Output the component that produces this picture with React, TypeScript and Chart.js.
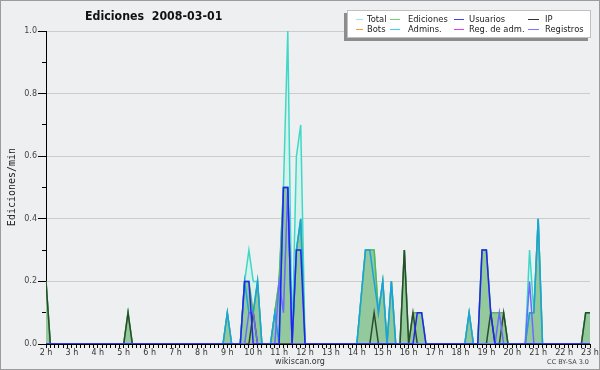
import { useEffect, useRef } from "react";
import { Chart, registerables } from "chart.js";

Chart.register(...registerables);

// ---- data: [time "HH:MM", edits per minute] vertices ----
const totalData: [string, number][] = [
  ["02:00", 0.2], ["02:10", 0],
  ["05:00", 0], ["05:10", 0.1], ["05:20", 0],
  ["08:50", 0], ["09:00", 0.1], ["09:10", 0],
  ["09:30", 0], ["09:40", 0.2], ["09:50", 0.3], ["10:00", 0.2], ["10:10", 0.2], ["10:20", 0],
  ["10:40", 0], ["10:50", 0.1], ["11:00", 0.2], ["11:10", 0.5], ["11:20", 1.0], ["11:30", 0], ["11:40", 0.6], ["11:50", 0.7], ["12:00", 0],
  ["14:00", 0], ["14:10", 0.15], ["14:20", 0.3], ["14:30", 0.3], ["14:40", 0.3], ["14:50", 0.1], ["15:00", 0.2], ["15:10", 0], ["15:20", 0.2], ["15:30", 0],
  ["15:40", 0], ["15:50", 0.3], ["16:00", 0], ["16:10", 0.1], ["16:20", 0.1], ["16:30", 0.1], ["16:40", 0],
  ["18:10", 0], ["18:20", 0.1], ["18:30", 0], ["18:40", 0], ["18:50", 0.3], ["19:00", 0.3], ["19:10", 0.1], ["19:20", 0.1], ["19:30", 0.1], ["19:40", 0.1], ["19:50", 0],
  ["20:30", 0], ["20:40", 0.3], ["20:50", 0.1], ["21:00", 0.4], ["21:10", 0],
  ["22:40", 0], ["22:50", 0.1], ["23:00", 0.1],
];

const edicionesData: [string, number][] = [
  ["02:00", 0.2], ["02:10", 0],
  ["05:00", 0], ["05:10", 0.1], ["05:20", 0],
  ["08:50", 0], ["09:00", 0.1], ["09:10", 0],
  ["09:30", 0], ["09:40", 0.2], ["09:50", 0.2], ["10:00", 0.1], ["10:10", 0.2], ["10:20", 0],
  ["10:40", 0], ["10:50", 0.1], ["11:00", 0.2], ["11:10", 0.5], ["11:20", 0.5], ["11:30", 0], ["11:40", 0.3], ["11:50", 0.4], ["12:00", 0],
  ["14:00", 0], ["14:10", 0.15], ["14:20", 0.3], ["14:30", 0.3], ["14:40", 0.3], ["14:50", 0.1], ["15:00", 0.2], ["15:10", 0], ["15:20", 0.2], ["15:30", 0],
  ["15:40", 0], ["15:50", 0.3], ["16:00", 0], ["16:10", 0.1], ["16:20", 0.1], ["16:30", 0.1], ["16:40", 0],
  ["18:10", 0], ["18:20", 0.1], ["18:30", 0], ["18:40", 0], ["18:50", 0.3], ["19:00", 0.3], ["19:10", 0.1], ["19:20", 0.1], ["19:30", 0.1], ["19:40", 0.1], ["19:50", 0],
  ["20:30", 0], ["20:40", 0.1], ["20:50", 0.1], ["21:00", 0.4], ["21:10", 0],
  ["22:40", 0], ["22:50", 0.1], ["23:00", 0.1],
];

const usuariosData: [string, number][] = [
  ["02:00", 0], ["09:30", 0], ["09:40", 0.2], ["09:50", 0.2], ["10:00", 0],
  ["11:00", 0], ["11:10", 0.5], ["11:20", 0.5], ["11:30", 0], ["11:40", 0.3], ["11:50", 0.3], ["12:00", 0],
  ["16:10", 0], ["16:20", 0.1], ["16:30", 0.1], ["16:40", 0],
  ["18:40", 0], ["18:50", 0.3], ["19:00", 0.3], ["19:10", 0.1], ["19:20", 0], ["23:00", 0],
];

const ipData: [string, number][] = [
  ["02:00", 0.2], ["02:10", 0], ["05:00", 0], ["05:10", 0.1], ["05:20", 0],
  ["09:50", 0], ["10:00", 0.1], ["10:10", 0],
  ["14:30", 0], ["14:40", 0.1], ["14:50", 0],
  ["15:40", 0], ["15:50", 0.3], ["16:00", 0], ["16:10", 0.1], ["16:20", 0],
  ["19:00", 0], ["19:10", 0.1], ["19:20", 0], ["19:30", 0], ["19:40", 0.1], ["19:50", 0],
  ["22:40", 0], ["22:50", 0.1], ["23:00", 0.1],
];

const botsData: [string, number][] = [["02:00", 0], ["23:00", 0]];

const adminsData: [string, number][] = [
  ["02:00", 0], ["08:50", 0], ["09:00", 0.1], ["09:10", 0],
  ["09:30", 0], ["09:40", 0.2], ["09:50", 0.1], ["10:00", 0.1], ["10:10", 0.2], ["10:20", 0],
  ["10:40", 0], ["10:50", 0.1], ["11:00", 0], ["11:10", 0.5], ["11:20", 0.5], ["11:30", 0], ["11:40", 0.3], ["11:50", 0.4], ["12:00", 0],
  ["14:00", 0], ["14:10", 0.15], ["14:20", 0.3], ["14:30", 0.3], ["14:40", 0.2], ["14:50", 0.1], ["15:00", 0.2], ["15:10", 0], ["15:20", 0.2], ["15:30", 0],
  ["18:10", 0], ["18:20", 0.1], ["18:30", 0],
  ["20:30", 0], ["20:40", 0.1], ["20:50", 0.1], ["21:00", 0.4], ["21:10", 0], ["23:00", 0],
];

const regAdmData: [string, number][] = [["02:00", 0], ["23:00", 0]];

const registrosData: [string, number][] = [
  ["02:00", 0], ["09:40", 0], ["09:50", 0.1], ["10:00", 0.1], ["10:10", 0],
  ["10:50", 0], ["11:00", 0.2], ["11:10", 0.1], ["11:20", 0.5], ["11:30", 0],
  ["19:20", 0], ["19:30", 0.1], ["19:40", 0],
  ["20:30", 0], ["20:40", 0.2], ["20:50", 0], ["23:00", 0],
];

const xMinTime = "02:00";
const xMaxTime = "23:00";
const yMax = 1.0;

const title = "Ediciones  2008-03-01";
const yTitle = "Ediciones/min";
const legendRow1 = ["Total", "Ediciones", "Usuarios", "IP"];
const legendRow2 = ["Bots", "Admins.", "Reg. de adm.", "Registros"];

// ---- styles ----
const legendColors1 = ["#9fe6e2", "#77cc77", "#4040ff", "#333333"];
const legendColors2 = ["#f5a030", "#40d0f0", "#e040f0", "#7777ff"];

const toMin = (s: string) => {
  const [h, m] = s.split(":").map(Number);
  return h * 60 + m;
};
const pts = (arr: [string, number][]) => arr.map(([t, v]) => ({ x: toMin(t), y: v }));

export default function App() {
  const ref = useRef<HTMLCanvasElement>(null);

  useEffect(() => {
    document.body.style.margin = "0";
    const canvas = ref.current!;

    const deco = {
      id: "deco",
      beforeDraw(chart: any) {
        const c = chart.ctx;
        c.save();
        c.fillStyle = "#eeeff0";
        c.fillRect(0, 0, chart.width, chart.height);
        c.restore();
      },
      afterDraw(chart: any) {
        const c = chart.ctx;
        c.save();
        // border
        c.strokeStyle = "#9c9c9c";
        c.lineWidth = 1;
        c.strokeRect(0.5, 0.5, chart.width - 1, chart.height - 1);
        // title
        c.save();
        c.translate(85, 16.5);
        c.scale(0.92, 1);
        c.fillStyle = "#111";
        c.font = "bold 12px 'DejaVu Sans'";
        c.textAlign = "left";
        c.textBaseline = "middle";
        c.fillText(title, 0, 0);
        c.restore();
        // y title
        c.save();
        c.translate(12, 187);
        c.rotate(-Math.PI / 2);
        c.font = "10px 'DejaVu Sans Mono'";
        c.textAlign = "center";
        c.textBaseline = "middle";
        c.fillStyle = "#222";
        c.fillText(yTitle, 0, 0);
        c.restore();
        // footer
        c.textBaseline = "middle";
        c.font = "8px 'DejaVu Sans'";
        c.fillStyle = "#333";
        c.textAlign = "center";
        c.fillText("wikiscan.org", 300, 361.5);
        c.font = "6.5px 'DejaVu Sans'";
        c.fillStyle = "#444";
        c.textAlign = "right";
        c.fillText("CC BY-SA 3.0", 589, 362);
        // legend box
        c.fillStyle = "#8c8c8c";
        c.fillRect(344, 13, 244, 28);
        c.fillStyle = "#ffffff";
        c.fillRect(347, 10, 244, 28);
        c.strokeStyle = "#c0c0c0";
        c.strokeRect(347.5, 10.5, 243, 27);
        const lineStart = [356, 390, 454, 528];
        const lineEnd = [363, 400, 464, 539];
        const textX = [367, 408, 469, 545];
        const rows = [19.5, 29.5];
        c.font = "9px 'DejaVu Sans'";
        c.textAlign = "left";
        c.textBaseline = "middle";
        [legendRow1, legendRow2].forEach((row, r) => {
          const cols = r === 0 ? legendColors1 : legendColors2;
          row.forEach((label, i) => {
            c.strokeStyle = cols[i];
            c.lineWidth = 1;
            c.beginPath();
            c.moveTo(lineStart[i], rows[r]);
            c.lineTo(lineEnd[i], rows[r]);
            c.stroke();
            c.save();
            c.translate(textX[i], rows[r] + 0.5);
            c.scale(0.93, 1);
            c.fillStyle = "#222";
            c.fillText(label, 0, 0);
            c.restore();
          });
        });
        c.restore();
      },
    };

    const line = (label: string, data: [string, number][], color: string, order: number, extra: any = {}) => ({
      label,
      data: pts(data),
      borderColor: color,
      borderWidth: 1.5,
      pointRadius: 0,
      tension: 0,
      fill: false,
      order,
      ...extra,
    });

    const chart = new Chart(canvas, {
      type: "line",
      data: {
        datasets: [
          line("Usuarios", usuariosData, "#2424ee", 1),
          line("Registros", registrosData, "#6a6aff", 2),
          line("Admins.", adminsData, "#1aa2e0", 3),
          line("IP", ipData, "#2c4a2c", 4),
          line("Reg. de adm.", regAdmData, "#e040e0", 5),
          line("Bots", botsData, "#ffa020", 6),
          line("Ediciones", edicionesData, "#55b855", 7, { fill: "origin", backgroundColor: "#93c99d" }),
          line("Total", totalData, "#3fd8c8", 8, { fill: "origin", backgroundColor: "#d6f2ec" }),
        ],
      },
      options: {
        responsive: false,
        animation: false,
        events: [],
        layout: { padding: { top: 31, right: 10, left: 0, bottom: 0 } },
        plugins: { legend: { display: false }, tooltip: { enabled: false }, title: { display: false } },
        scales: {
          x: {
            type: "linear",
            min: toMin(xMinTime),
            max: toMin(xMaxTime),
            z: 1,
            border: { color: "#000", width: 1 },
            grid: { drawOnChartArea: false, tickLength: 4, tickColor: "#000" },
            ticks: {
              stepSize: 10,
              autoSkip: false,
              maxRotation: 0,
              minRotation: 0,
              padding: 0,
              color: "#333",
              font: { family: "DejaVu Sans", size: 8 },
              callback: (v: any) => (Number(v) % 60 === 0 ? `${Number(v) / 60} h` : ""),
            },
            afterFit: (s: any) => {
              s.height = 26;
            },
          },
          y: {
            min: 0,
            max: yMax,
            border: { color: "#000", width: 1 },
            grid: {
              tickLength: 8,
              tickColor: "#000",
              color: (ctx: any) => {
                const v = ctx.tick ? ctx.tick.value : 0;
                const k = Math.round(v * 10);
                return k > 0 && k % 2 === 0 ? "#cccccc" : "rgba(0,0,0,0)";
              },
              tickBorderDash: (ctx: any) => {
                const v = ctx.tick ? ctx.tick.value : 0;
                const k = Math.round(v * 10);
                return k % 2 === 0 ? [] : [0, 4, 4, 100];
              },
            },
            ticks: {
              stepSize: 0.1,
              padding: 1,
              color: "#444",
              font: { family: "DejaVu Sans", size: 8 },
              callback: (v: any) => (Math.round(Number(v) * 10) % 2 === 0 ? Number(v).toFixed(1) : ""),
            },
            afterFit: (s: any) => {
              s.width = 46;
            },
          },
        },
      },
      plugins: [deco],
    } as any);

    return () => chart.destroy();
  }, []);

  return <canvas ref={ref} width={600} height={370} style={{ display: "block", width: 600, height: 370 }} />;
}
